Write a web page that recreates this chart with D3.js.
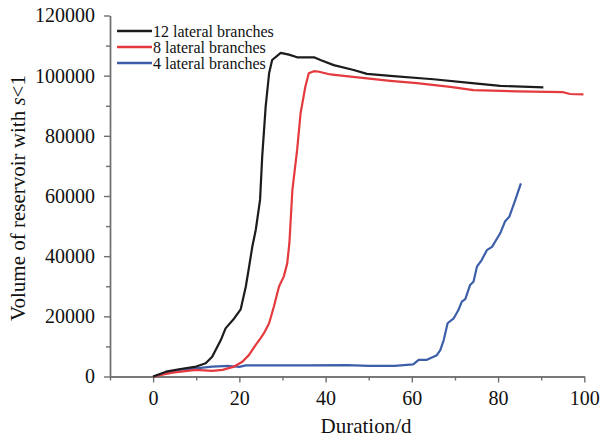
<!DOCTYPE html>
<html>
<head>
<meta charset="utf-8">
<script src="https://cdn.jsdelivr.net/npm/d3@7"></script>
<style>
  body { margin: 0; background: #fff; }
  svg { display: block; font-family: "Liberation Serif", "Times New Roman", serif; }
</style>
</head>
<body>
<svg id="chart" width="601" height="441"></svg>
<script>
// Duration (days) and volume of reservoir with s<1 for each lateral-branch count
const days12 = [0, 3, 6, 10, 12.2, 13.7, 15.7, 16.8, 18.8, 20.3, 21.5, 22.2, 23, 23.8, 24.8, 25.3, 26.1, 26.9, 27.6, 29.6, 31.5, 33.4, 37.3, 38.8, 41.9, 46.5, 49.6, 55, 65, 72.8, 80.5, 90.5];
const vol12  = [0, 1600, 2400, 3300, 4400, 6600, 12100, 16000, 19300, 22300, 29900, 36000, 43100, 48700, 58700, 73100, 89700, 100800, 105200, 107600, 107000, 106100, 106100, 105200, 103500, 101900, 100600, 99900, 98800, 97700, 96600, 96100];

const days8 = [0, 4.5, 9.9, 13.7, 16.1, 18.8, 20.7, 22.2, 23.8, 24.9, 25.7, 26.9, 28, 29.2, 30.3, 31.1, 31.6, 32.3, 33.4, 34.2, 35.3, 36.1, 37.3, 38.5, 41.1, 45.8, 49.6, 55, 61.2, 68.9, 74.3, 84.4, 95.1, 96.7, 99.8];
const vol8  = [0, 1300, 2200, 1900, 2200, 3300, 4900, 7100, 10500, 12700, 14400, 17700, 23200, 29900, 33200, 37600, 44300, 62000, 75300, 87500, 96300, 100800, 101500, 101300, 100400, 99700, 99100, 98300, 97500, 96300, 95200, 94800, 94500, 93900, 93800];

const days4 = [0, 6, 9.9, 13.7, 17.6, 20, 21.5, 35, 45, 50, 56, 60.3, 61.6, 63.4, 65.8, 66.6, 67.4, 68.3, 69.7, 70.8, 71.6, 72.4, 73.5, 74.3, 75.1, 76.2, 77.4, 78.6, 80.5, 81.6, 82.6, 84, 85.3];
const vol4  = [0, 2200, 2700, 3300, 3500, 3200, 3700, 3700, 3800, 3500, 3500, 4000, 5500, 5500, 7100, 8800, 12100, 17700, 19300, 22100, 24900, 25700, 30400, 31500, 36500, 38700, 42000, 43100, 47600, 51500, 53100, 58700, 64200];

const seriesNames = ["12 lateral branches", "8 lateral branches", "4 lateral branches"];
const seriesColors = ["#1c1c1c", "#e53a3d", "#3d5ea9"];

const xTicks = [0, 20, 40, 60, 80, 100];
const xMinorTicks = [-10, 10, 30, 50, 70, 90];
const yTicks = [0, 20000, 40000, 60000, 80000, 100000, 120000];
const yMinorTicks = [10000, 30000, 50000, 70000, 90000, 110000];

const serif = "'Liberation Serif', 'Times New Roman', serif";
const svg = d3.select("#chart");
const x = d3.scaleLinear().domain([-10, 100]).range([110, 584.3]);
const y = d3.scaleLinear().domain([0, 120000]).range([376.5, 15.5]);

const axisColor = "#6f6f6f";

function styleAxis(g) {
  g.attr("font-family", serif).attr("font-size", 20);
  g.selectAll("path.domain").attr("stroke", axisColor).attr("stroke-width", 1.4);
  g.selectAll(".tick line").attr("stroke", axisColor).attr("stroke-width", 1.4);
  g.selectAll(".tick text").attr("fill", "#111");
}

// minor ticks (no labels)
svg.append("g").attr("transform", `translate(0,${y(0)})`)
  .call(d3.axisBottom(x).tickValues(xMinorTicks).tickSize(4).tickSizeOuter(0).tickFormat(""))
  .call(styleAxis);
svg.append("g").attr("transform", `translate(${x(-10)},0)`)
  .call(d3.axisLeft(y).tickValues(yMinorTicks).tickSize(4).tickSizeOuter(0).tickFormat(""))
  .call(styleAxis);

// major axes
svg.append("g").attr("transform", `translate(0,${y(0)})`)
  .call(d3.axisBottom(x).tickValues(xTicks).tickSize(6).tickSizeOuter(0).tickPadding(8).tickFormat(d3.format("d")))
  .call(styleAxis);
svg.append("g").attr("transform", `translate(${x(-10)},0)`)
  .call(d3.axisLeft(y).tickValues(yTicks).tickSize(6).tickSizeOuter(0).tickPadding(9).tickFormat(d3.format("d")))
  .call(styleAxis);

// axis titles
svg.append("text")
  .attr("x", 366).attr("y", 433)
  .attr("text-anchor", "middle")
  .attr("font-family", serif).attr("font-size", 21).attr("fill", "#111")
  .text("Duration/d");

const yTitle = svg.append("text")
  .attr("transform", "translate(25,198) rotate(-90)")
  .attr("text-anchor", "middle")
  .attr("font-family", serif).attr("font-size", 21).attr("fill", "#111");
yTitle.append("tspan").text("Volume of reservoir with ");
yTitle.append("tspan").attr("font-style", "italic").text("s");
yTitle.append("tspan").text("<1");

// series lines
const seriesData = [
  days12.map((d, i) => [d, vol12[i]]),
  days8.map((d, i) => [d, vol8[i]]),
  days4.map((d, i) => [d, vol4[i]])
];
const line = d3.line().x(d => x(d[0])).y(d => y(d[1]));

// draw 4 first, then 8, then 12 on top
[2, 1, 0].forEach(i => {
  svg.append("path")
    .datum(seriesData[i])
    .attr("fill", "none")
    .attr("stroke", seriesColors[i])
    .attr("stroke-width", 2.2)
    .attr("stroke-linejoin", "round")
    .attr("d", line);
});

// legend
const legend = svg.append("g");
seriesNames.forEach((name, i) => {
  const cy = 31 + i * 16;
  legend.append("line")
    .attr("x1", 117).attr("x2", 152)
    .attr("y1", cy).attr("y2", cy)
    .attr("stroke", seriesColors[i]).attr("stroke-width", 2.6);
  legend.append("text")
    .attr("x", 153).attr("y", cy + 5.5)
    .attr("font-family", serif).attr("font-size", 16).attr("fill", "#111")
    .text(name);
});
</script>
</body>
</html>
